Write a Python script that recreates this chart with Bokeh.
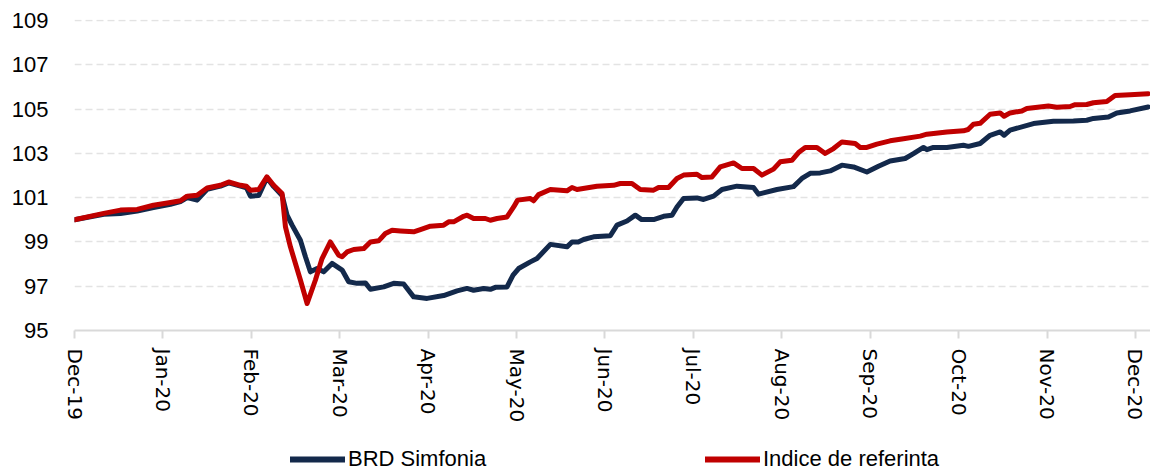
from bokeh.plotting import figure
from bokeh.layouts import column
from bokeh.models import Range1d, FixedTicker, Legend, LegendItem
from bokeh.embed import file_html
from bokeh.resources import INLINE

# ---- data (x = months since Dec-19) ----
month_labels = ["Dec-19", "Jan-20", "Feb-20", "Mar-20", "Apr-20", "May-20", "Jun-20",
                "Jul-20", "Aug-20", "Sep-20", "Oct-20", "Nov-20", "Dec-20"]
y_ticks = [95, 97, 99, 101, 103, 105, 107, 109]

brd_x = [0.000, 0.331, 0.520, 0.709, 0.893, 1.085, 1.198, 1.274, 1.387, 1.500, 1.651, 1.744,
         1.877, 1.945, 1.990, 2.084, 2.176, 2.253, 2.348, 2.404, 2.461, 2.555, 2.612, 2.668,
         2.744, 2.819, 2.913, 3.027, 3.101, 3.196, 3.290, 3.347, 3.497, 3.610, 3.723, 3.836,
         3.988, 4.175, 4.327, 4.440, 4.514, 4.627, 4.703, 4.760, 4.892, 4.960, 5.023, 5.156,
         5.231, 5.382, 5.570, 5.627, 5.698, 5.758, 5.871, 6.060, 6.136, 6.249, 6.343, 6.415,
         6.550, 6.663, 6.758, 6.814, 6.889, 7.040, 7.115, 7.228, 7.323, 7.492, 7.680, 7.737,
         7.945, 8.132, 8.227, 8.321, 8.434, 8.547, 8.680, 8.811, 8.962, 9.093, 9.225, 9.395,
         9.489, 9.602, 9.641, 9.715, 9.867, 10.054, 10.111, 10.243, 10.356, 10.469, 10.514,
         10.582, 10.846, 11.072, 11.298, 11.449, 11.524, 11.694, 11.789, 11.939, 12.143]
brd_y = [100.00, 100.25, 100.29, 100.40, 100.55, 100.70, 100.82, 101.00, 100.89, 101.38, 101.52, 101.67,
         101.52, 101.45, 101.07, 101.10, 101.90, 101.50, 101.10, 100.21, 99.76, 99.08, 98.33, 97.65,
         97.80, 97.65, 98.03, 97.73, 97.20, 97.13, 97.15, 96.86, 96.97, 97.13, 97.10, 96.52,
         96.45, 96.58, 96.79, 96.90, 96.82, 96.90, 96.86, 96.95, 96.97, 97.50, 97.80, 98.10,
         98.25, 98.89, 98.78, 99.00, 99.00, 99.11, 99.23, 99.28, 99.76, 99.95, 100.21, 100.01,
         100.01, 100.16, 100.21, 100.58, 100.96, 100.99, 100.92, 101.07, 101.37, 101.52, 101.46, 101.16,
         101.37, 101.50, 101.87, 102.10, 102.12, 102.21, 102.47, 102.39, 102.16, 102.42, 102.66, 102.77,
         102.99, 103.27, 103.17, 103.27, 103.27, 103.37, 103.32, 103.45, 103.82, 103.97, 103.82,
         104.05, 104.35, 104.45, 104.47, 104.50, 104.58, 104.65, 104.83, 104.92, 105.10]

idx_x = [0.000, 0.331, 0.520, 0.709, 0.893, 1.085, 1.198, 1.274, 1.387, 1.500, 1.651, 1.744,
         1.877, 1.945, 1.990, 2.084, 2.176, 2.253, 2.348, 2.386, 2.442, 2.555, 2.631, 2.725,
         2.800, 2.894, 2.988, 3.027, 3.083, 3.158, 3.271, 3.347, 3.440, 3.516, 3.592, 3.686,
         3.836, 3.912, 4.025, 4.175, 4.232, 4.288, 4.401, 4.440, 4.514, 4.647, 4.703, 4.779,
         4.892, 4.967, 5.012, 5.156, 5.193, 5.249, 5.382, 5.570, 5.627, 5.683, 5.909, 6.097,
         6.173, 6.305, 6.399, 6.550, 6.606, 6.719, 6.814, 6.889, 7.040, 7.097, 7.210, 7.304,
         7.454, 7.549, 7.680, 7.775, 7.906, 7.982, 8.114, 8.189, 8.265, 8.397, 8.491, 8.585,
         8.680, 8.830, 8.887, 8.962, 9.075, 9.225, 9.376, 9.565, 9.641, 9.867, 10.054, 10.107,
         10.167, 10.243, 10.356, 10.469, 10.514, 10.582, 10.715, 10.771, 11.015, 11.110, 11.261,
         11.317, 11.449, 11.524, 11.676, 11.769, 11.939, 12.143]
idx_y = [100.00, 100.29, 100.44, 100.47, 100.66, 100.78, 100.86, 101.07, 101.11, 101.44, 101.56, 101.71,
         101.56, 101.52, 101.34, 101.37, 101.94, 101.56, 101.19, 99.68, 98.78, 97.28, 96.22, 97.28,
         98.25, 99.00, 98.40, 98.33, 98.55, 98.66, 98.70, 99.00, 99.05, 99.38, 99.53, 99.50,
         99.46, 99.56, 99.71, 99.76, 99.91, 99.91, 100.16, 100.21, 100.06, 100.06, 99.98, 100.06,
         100.13, 100.58, 100.89, 100.96, 100.86, 101.14, 101.37, 101.31, 101.46, 101.37, 101.52, 101.56,
         101.64, 101.64, 101.37, 101.34, 101.46, 101.46, 101.87, 102.02, 102.06, 101.91, 101.94, 102.39,
         102.57, 102.32, 102.32, 102.02, 102.29, 102.62, 102.69, 103.04, 103.27, 103.27, 103.00, 103.22,
         103.52, 103.45, 103.27, 103.27, 103.42, 103.57, 103.66, 103.78, 103.87, 103.97, 104.02, 104.08,
         104.32, 104.36, 104.77, 104.83, 104.68, 104.83, 104.92, 105.03, 105.14, 105.09, 105.12,
         105.20, 105.21, 105.29, 105.35, 105.62, 105.65, 105.70]

series_names = ["BRD Simfonia", "Indice de referinta"]
colors = ["#13294b", "#c00000"]
series = [(brd_x, brd_y), (idx_x, idx_y)]

# ---- main chart ----
p = figure(width=1150, height=432,
           x_range=Range1d(0, 12.17), y_range=Range1d(95, 109.05),
           output_backend="svg", toolbar_location=None,
           min_border_left=74, min_border_right=0, min_border_top=19, min_border_bottom=102)
p.outline_line_color = None
p.background_fill_color = "white"

for (xs, ys), col in zip(series, colors):
    p.line(xs, ys, line_color=col, line_width=5, line_join="round", line_cap="round")

# x axis
p.xaxis.ticker = FixedTicker(ticks=list(range(len(month_labels))))
p.xaxis.major_label_overrides = {i: lab for i, lab in enumerate(month_labels)}
p.xaxis.major_label_orientation = "vertical"
p.xaxis.axis_line_color = "#d9d9d9"
p.xaxis.axis_line_width = 2
p.xaxis.major_tick_line_color = "#d9d9d9"
p.xaxis.major_tick_line_width = 2
p.xaxis.major_tick_out = 8
p.xaxis.major_tick_in = 0
p.xaxis.minor_tick_line_color = None
p.xaxis.major_label_standoff = 10
p.xaxis.major_label_text_font = "DejaVu Sans"
p.xaxis.major_label_text_font_size = "20px"
p.xaxis.major_label_text_color = "#000000"

# y axis
p.yaxis.ticker = FixedTicker(ticks=y_ticks)
p.yaxis.axis_line_color = None
p.yaxis.major_tick_line_color = None
p.yaxis.major_tick_out = 0
p.yaxis.major_tick_in = 0
p.yaxis.minor_tick_line_color = None
p.yaxis.major_label_standoff = 26
p.yaxis.major_label_text_font = "Liberation Sans"
p.yaxis.major_label_text_font_size = "22px"
p.yaxis.major_label_text_color = "#000000"

# grid
p.xgrid.grid_line_color = None
p.ygrid.ticker = FixedTicker(ticks=y_ticks[1:])
p.ygrid.grid_line_color = "#e3e3e3"
p.ygrid.grid_line_width = 1.5
p.ygrid.grid_line_dash = "7 4"

# ---- legend strip (series drawn off-range so only the legend shows) ----
lg = figure(width=1150, height=40, output_backend="svg", toolbar_location=None,
            x_axis_type=None, y_axis_type=None, min_border=0,
            x_range=Range1d(0, 1), y_range=Range1d(0, 1))
lg.outline_line_color = None
lg.grid.visible = False
items = []
for name, col, (xs, ys) in zip(series_names, colors, series):
    r = lg.line(xs, ys, line_color=col, line_width=6, line_cap="round")
    items.append(LegendItem(label=name, renderers=[r]))
legend = Legend(items=items, location=(216, 0), orientation="horizontal",
                glyph_width=55, glyph_height=26, label_standoff=3,
                label_width=140, spacing=217, padding=0, margin=0,
                border_line_color=None, background_fill_alpha=0)
legend.label_text_font = "Liberation Sans"
legend.label_text_font_size = "22px"
legend.label_text_color = "#000000"
lg.add_layout(legend)

layout = column(p, lg, spacing=0)
open("out.html", "w").write(file_html(layout, INLINE))
